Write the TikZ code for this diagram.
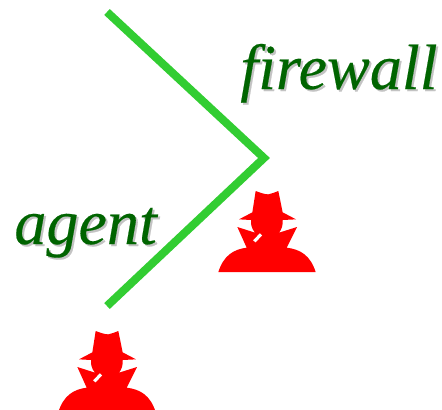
\documentclass[tikz,border=0pt]{standalone}
\usepackage{fontspec}
\usepackage{xcolor}
\setmainfont[ItalicFeatures={FakeBold=0.3}]{Liberation Serif}
\definecolor{wallgreen}{RGB}{50,205,50}
\definecolor{labelgreen}{RGB}{0,100,0}
\definecolor{labelshade}{RGB}{195,195,195}
\tikzset{
  wallline/.style={draw=wallgreen, line width=4.6pt, line join=miter},
  biglabel/.style={anchor=base west, inner sep=0pt, text=labelgreen, font=\fontsize{36.5}{36.5}\selectfont\itshape},
  biglabelshade/.style={biglabel, text=labelshade},
  spy/.pic={
    \fill[red, scale=0.3333] (-146,0) .. controls (-130,-50) and (-100,-68) .. (-61,-73)
      -- (-89,-135) -- (-36,-118) .. controls (-46,-130) and (-49,-142) .. (-48,-156)
      -- (-84,-158) -- (-44,-179) -- (-34,-243) .. controls (-20,-238) and (-8,-233) .. (4,-233)
      .. controls (14,-235) and (24,-239) .. (34,-243) -- (47,-179) -- (87,-158) -- (47,-156)
      .. controls (48,-140) and (44,-128) .. (36,-118) -- (90,-135) -- (59,-73)
      .. controls (100,-68) and (130,-50) .. (146,0) -- cycle;
    \draw[white, line width=1.8pt, scale=0.3333] (-38,-92) -- (-18,-113);
  }
}
\begin{document}
\begin{tikzpicture}[x=0.02cm,y=-0.02cm]
\useasboundingbox (0,0) rectangle (442,409);
\clip (0,0) rectangle (442,409);
\coordinate (walltop) at (107,12);
\coordinate (wallapex) at (264,158);
\coordinate (wallbottom) at (107,306);
\draw[wallline] (walltop) -- (wallapex) -- (wallbottom);
\node[biglabelshade] (firewallshade) at (242,91) {f{}irewall};
\node[biglabel] (firewall) at (240,89) {f{}irewall};
\node[biglabelshade] (agentshade) at (16,246) {agent};
\node[biglabel] (agent) at (14,244) {agent};
\pic at (267,272) {spy};
\pic at (107,412) {spy};
\end{tikzpicture}
\end{document}
